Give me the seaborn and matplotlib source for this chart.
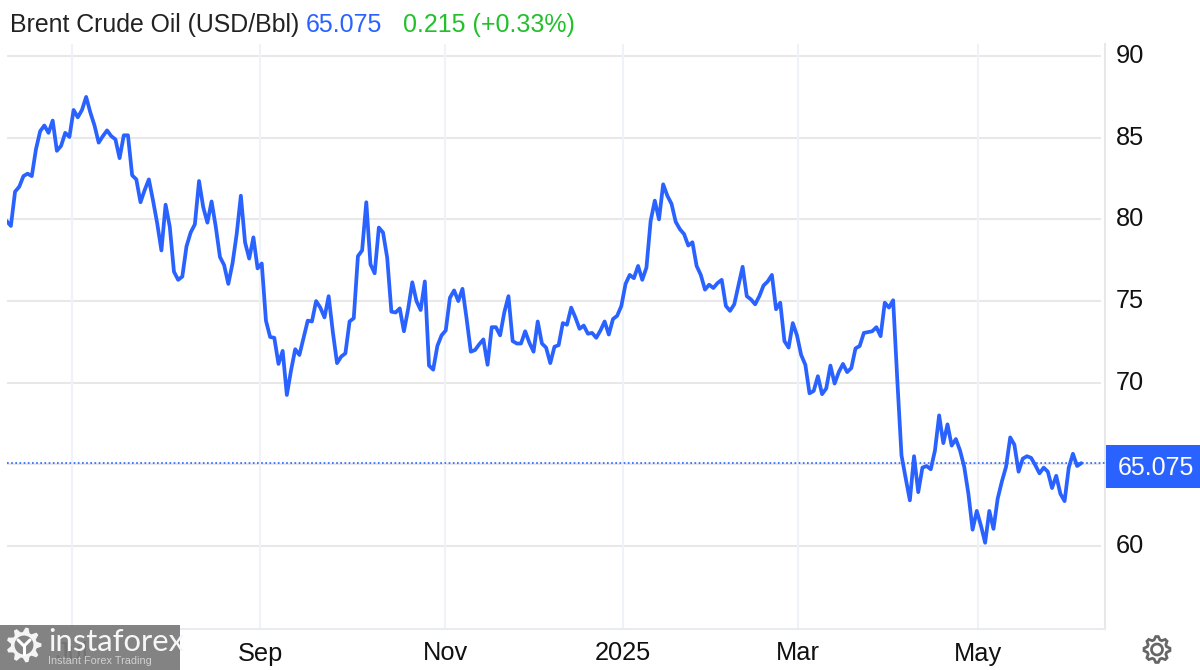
import numpy as np
import pandas as pd
import matplotlib
matplotlib.use("Agg")
import matplotlib.pyplot as plt
from matplotlib.patches import Rectangle, PathPatch
from matplotlib.lines import Line2D
from matplotlib.path import Path
import seaborn as sns

prices = [
    79.9, 79.6, 81.7, 82.0, 82.65, 82.8, 82.65, 84.3, 85.4, 85.75, 85.3, 86.05, 84.2, 84.5, 85.3, 85.05,
    86.7, 86.25, 86.7, 87.5, 86.55, 85.75, 84.7, 85.1, 85.45, 85.1, 84.9, 83.75, 85.15, 85.15, 82.7, 82.45,
    81.05, 81.8, 82.45, 81.15, 79.75, 78.1, 80.9, 79.55, 76.8, 76.3, 76.5, 78.35, 79.2, 79.7, 82.35, 80.75,
    79.8, 81.1, 79.55, 77.7, 77.2, 76.05, 77.3, 79.1, 81.45, 78.6, 77.6, 78.9, 77.0, 77.3,
    73.8, 72.8, 72.75, 71.15, 71.95, 69.25, 70.75, 72.05, 71.7, 72.75, 73.8, 73.75, 75.0, 74.6, 74.0, 75.3,
    73.1, 71.2, 71.6, 71.8, 73.75,
    73.95, 77.75, 78.1, 81.05, 77.25, 76.7, 79.5, 79.2, 77.65, 74.35, 74.3, 74.55, 73.15, 74.5, 76.15, 75.0,
    74.45, 76.2, 71.05, 70.8, 72.25, 72.9, 73.2, 75.2, 75.65, 75.0, 75.75, 73.9, 71.9, 72.0, 72.35, 72.65,
    71.1, 73.4, 73.4, 72.9, 74.3, 75.3, 72.55, 72.4, 72.4, 73.15, 72.45, 71.9, 73.75, 72.4, 72.15, 71.2,
    72.2, 72.3, 73.65, 73.55, 74.6, 74.0, 73.3, 73.5, 73.0, 73.05, 72.75,
    73.2, 73.75, 72.95, 73.9, 74.1, 74.7, 76.05, 76.6, 76.4, 77.15, 76.3, 77.05, 79.9, 81.15, 80.0, 82.15,
    81.45, 80.95, 79.85, 79.4, 79.1, 78.4, 78.6, 77.15, 76.6, 75.7, 76.0, 75.8, 76.1, 76.3, 74.7, 74.4,
    74.8, 75.95, 77.1, 75.3, 75.1, 74.8, 75.3, 75.95, 76.2, 76.6, 74.5, 74.9, 72.55, 72.15, 73.65, 72.9,
    71.7, 71.1, 69.35, 69.5, 70.4, 69.3, 69.65, 71.05, 69.95, 70.65, 71.15, 70.65, 70.9, 72.1, 72.25, 73.05,
    73.1, 73.15, 73.4, 72.85, 74.9, 74.6, 75.05, 70.14,
    65.55, 64.15, 62.8, 65.5, 63.3, 64.8, 64.9, 64.7, 65.85, 68.0, 66.3, 67.45, 66.15, 66.55, 65.85, 64.85,
    63.2, 61.0, 62.15, 61.25, 60.2, 62.15, 61.05, 62.9, 63.95, 64.85, 66.65, 66.2, 64.55, 65.35, 65.5, 65.4,
    64.95, 64.45, 64.8, 64.55, 63.55, 64.3, 63.2, 62.75, 64.8, 65.65, 64.9, 65.075,
]
month_labels = ["Jul", "Sep", "Nov", "2025", "Mar", "May"]
month_days = [15.6, 60.6, 104.9, 147.3, 189.2, 232.3]
y_ticks = [60, 65, 70, 75, 80, 85, 90]
last_price = 65.075
blue = "#2962ff"
W, H = 1200, 670

sns.set_theme(style="white")
plt.rcParams["font.family"] = ["Liberation Sans", "DejaVu Sans"]

df = pd.DataFrame({"day": np.arange(len(prices)), "price": prices})

fig = plt.figure(figsize=(12, 6.7), dpi=100, facecolor="white")
ax = fig.add_axes([7 / W, 1 - 629 / H, (1105 - 7) / W, (629 - 44) / H])

sns.lineplot(data=df, x="day", y="price", ax=ax, color=blue, linewidth=2.7, zorder=4, errorbar=None)

# first and last points sit at px 6.7 and 1081.3
step = (1081.3 - 6.7) / (len(prices) - 1)
ax.set_xlim((7 - 6.7) / step, (1105 - 6.7) / step)
ax.set_ylim(54.92, 90.74)
ax.set_xlabel("")
ax.set_ylabel("")

ax.yaxis.tick_right()
ax.set_yticks([t for t in y_ticks if t != 65])
ax.set_xticks(month_days, month_labels)
ax.grid(False)
ax.hlines(y_ticks, ax.get_xlim()[0], (1101 - 6.7) / step, color="#e8e8e8", lw=1.5, zorder=1)
ax.vlines(month_days, *ax.get_ylim(), color="#eff3f8", lw=1.5, zorder=1)
ax.axhline(last_price, color=blue, lw=1.2, ls=(0, (1, 1.5)), zorder=3)
ax.tick_params(axis="y", length=5, width=1.3, color="#e8e8e8", labelsize=18.3, labelcolor="#111111", pad=3, right=True)
ax.tick_params(axis="x", length=0, labelsize=18.3, labelcolor="#111111", pad=9)
for lab in ax.get_yticklabels():
    lab.set_verticalalignment("center")
sns.despine(ax=ax, left=True, top=True, right=False, bottom=False)
ax.spines["right"].set_color("#e8e8e8")
ax.spines["right"].set_linewidth(1.5)
ax.spines["bottom"].set_color("#e8ecf2")
ax.spines["bottom"].set_linewidth(1.5)


def ftext(px, py, s, **kw):
    return fig.text(px / W, 1 - py / H, s, **kw)


# header
ftext(10, 25, "Brent Crude Oil (USD/Bbl)", fontsize=17.9, color="#222222", va="center", ha="left")
ftext(306, 25, "65.075", fontsize=18, color=blue, va="center", ha="left")
ftext(403, 25, "0.215 (+0.33%)", fontsize=18, color="#22c02a", va="center", ha="left")

# price tag on the axis
fig.add_artist(Rectangle((1106 / W, 1 - 488 / H), 94 / W, 43 / H, transform=fig.transFigure, fc=blue, ec="none"))
ftext(1155.5, 468, "65.075", fontsize=18, color="white", va="center", ha="center")


def gear(cx, cy, r_out, r_in, teeth, hole):
    # outline of a cog in figure fractions, hole cut as a second subpath
    pts = []
    n = teeth * 4
    for i in range(n):
        a = 2 * np.pi * (i - 0.5) / n
        r = r_out if i % 4 in (0, 1) else r_in
        pts.append((cx + r * np.cos(a), H - cy + r * np.sin(a)))
    t = np.linspace(2 * np.pi, 0, 30)
    ring = [(cx + hole * np.cos(a), H - cy + hole * np.sin(a)) for a in t]
    verts = pts + pts[:1] + ring
    codes = [Path.MOVETO] + [Path.LINETO] * (len(pts) - 1) + [Path.CLOSEPOLY]
    codes += [Path.MOVETO] + [Path.LINETO] * (len(ring) - 2) + [Path.CLOSEPOLY]
    return Path(np.array(verts) * np.array([1 / W, 1 / H]), codes)


# settings icon, bottom right
fig.add_artist(PathPatch(gear(1157, 649.5, 13, 10, 8, 5.5), transform=fig.transFigure,
                         fc="none", ec="#666666", lw=2.0))

# watermark
fig.add_artist(Rectangle((0, 0), 180 / W, 45 / H, transform=fig.transFigure, fc="#7a7a7a", ec="none", alpha=0.93, zorder=8))
fig.add_artist(PathPatch(gear(24, 645, 17.5, 13, 9, 9.5), transform=fig.transFigure, fc="white", ec="none", alpha=0.92, zorder=9))
# little figure inside the logo cog
fig.add_artist(Line2D([24 / W, 24 / W], [1 - 654 / H, 1 - 645 / H], color="white", lw=2.2, zorder=9))
fig.add_artist(Line2D([18 / W, 24 / W, 30 / W], [1 - 640 / H, 1 - 646 / H, 1 - 640 / H], color="white", lw=2.2, zorder=9))
ftext(48, 642, "instaforex", fontsize=22.3, color="#f6f6f6", va="center", ha="left",
      family="Lato", fontweight="normal", zorder=9)
ftext(48, 660.5, "Instant Forex Trading", fontsize=7.8, color="#d0d0d0", va="center", ha="left", zorder=9)

fig.savefig("out.png", dpi=100, facecolor="white")
